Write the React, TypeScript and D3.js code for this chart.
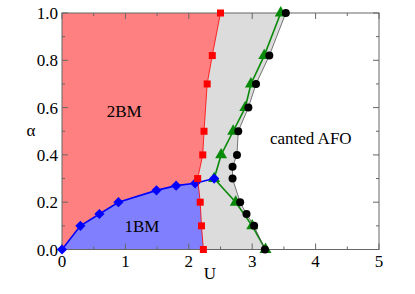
import React from 'react';
import * as d3 from 'd3';

// phase boundaries: [U, alpha]
const redBoundary: [number, number][] = [
  [2.5, 1.0], [2.37, 0.82], [2.29, 0.7], [2.24, 0.5], [2.22, 0.4],
  [2.14, 0.3], [2.18, 0.2], [2.2, 0.1], [2.23, 0.0],
];
const blueBoundary: [number, number][] = [
  [0, 0], [0.29, 0.1], [0.59, 0.15], [0.89, 0.2], [1.49, 0.25],
  [1.8, 0.27], [2.1, 0.28], [2.4, 0.3],
];
const greenBoundary: [number, number][] = [
  [3.45, 1.0], [3.19, 0.82], [2.98, 0.7], [2.89, 0.6], [2.7, 0.5],
  [2.51, 0.4], [2.4, 0.3], [2.74, 0.2], [3.0, 0.1], [3.21, 0.0],
];
const blackBoundary: [number, number][] = [
  [3.53, 1.0], [3.27, 0.82], [3.06, 0.7], [2.94, 0.6], [2.78, 0.5],
  [2.76, 0.4], [2.69, 0.35], [2.69, 0.3], [2.81, 0.2], [2.91, 0.15],
  [3.03, 0.1], [3.2, 0.0],
];
const xTicks = [0, 1, 2, 3, 4, 5];
const yTicks = [0, 0.2, 0.4, 0.6, 0.8, 1.0];
const phaseLabels = [
  { text: '2BM', u: 0.98, a: 0.56, anchor: 'middle' },
  { text: '1BM', u: 1.26, a: 0.075, anchor: 'middle' },
  { text: 'canted AFO', u: 3.28, a: 0.445, anchor: 'start' },
];

const W = 415;
const H = 294;
const margin = { left: 62, right: 36, top: 13, bottom: 44.5 };
const FONT = "'Liberation Serif', 'Times New Roman', serif";

export default function App() {
  const x = d3.scaleLinear().domain([0, 5]).range([margin.left, W - margin.right]);
  const y = d3.scaleLinear().domain([0, 1]).range([H - margin.bottom, margin.top]);
  const line = d3.line<[number, number]>().x(d => x(d[0])).y(d => y(d[1]));

  // red region: everything left of red boundary
  const redPoly: [number, number][] = [[0, 0], [0, 1], ...redBoundary];
  // blue region: below blue line up to red boundary
  const bluePoly: [number, number][] = [
    ...blueBoundary.filter(d => d[0] <= 2.1),
    [2.15, 0.285],
    ...redBoundary.filter(d => d[1] < 0.28),
  ];
  // grey region: between red boundary and black circles
  const greyPoly: [number, number][] = [...redBoundary, ...[...blackBoundary].reverse()];

  const minorX = d3.range(0, 5.01, 0.5);
  const minorY = d3.range(0, 1.001, 0.1);
  const x0 = x(0), x1 = x(5), y0 = y(0), y1 = y(1);
  const axisColor = '#666';

  const diamond = d3.symbol(d3.symbolSquare, 52)();
  const triangle = d3.symbol(d3.symbolTriangle, 62)();

  return (
    <svg width={W} height={H} style={{ position: 'absolute', left: 0, top: 0, background: '#fff' }}>
      <path d={line(greyPoly)! + 'Z'} fill="#dcdcdc" />
      <path d={line(redPoly)! + 'Z'} fill="#ff8080" />
      <path d={line(bluePoly)! + 'Z'} fill="#8080ff" />

      {/* frame and ticks */}
      <rect x={x0} y={y1} width={x1 - x0} height={y0 - y1} fill="none" stroke={axisColor} strokeWidth={1} />
      {minorX.map((t, i) => {
        const len = Number.isInteger(t) ? 6 : 3;
        return (
          <g key={'xt' + i} stroke={axisColor} strokeWidth={1}>
            <line x1={x(t)} x2={x(t)} y1={y0} y2={y0 - len} />
            <line x1={x(t)} x2={x(t)} y1={y1} y2={y1 + len} />
          </g>
        );
      })}
      {minorY.map((t, i) => {
        const len = i % 2 === 0 ? 6 : 3;
        return (
          <g key={'yt' + i} stroke={axisColor} strokeWidth={1}>
            <line x1={x0} x2={x0 + len} y1={y(t)} y2={y(t)} />
            <line x1={x1} x2={x1 - len} y1={y(t)} y2={y(t)} />
          </g>
        );
      })}
      {xTicks.map(t => (
        <text key={'xl' + t} x={x(t)} y={y0 + 17} textAnchor="middle" fontFamily={FONT} fontSize={17}>{t}</text>
      ))}
      {yTicks.map(t => (
        <text key={'yl' + t} x={x0 - 4} y={y(t) + 6} textAnchor="end" fontFamily={FONT} fontSize={17}>{t.toFixed(1)}</text>
      ))}
      <text x={210} y={279} textAnchor="middle" fontFamily={FONT} fontSize={17}>U</text>
      <text x={31} y={136} textAnchor="middle" fontFamily={FONT} fontSize={17}>α</text>

      {phaseLabels.map(l => (
        <text key={l.text} x={x(l.u)} y={y(l.a)} textAnchor={l.anchor} fontFamily={FONT} fontSize={17}>{l.text}</text>
      ))}

      {/* green boundary */}
      <path d={line(greenBoundary)!} fill="none" stroke="#0a8a0a" strokeWidth={1.6} />
      {greenBoundary.map((d, i) => (
        <path key={'g' + i} d={triangle!} transform={`translate(${x(d[0])},${y(d[1])})`} fill="#0a8a0a" />
      ))}

      {/* black boundary */}
      <path d={line(blackBoundary)!} fill="none" stroke="#555" strokeWidth={0.8} />
      {blackBoundary.map((d, i) => (
        <circle key={'k' + i} cx={x(d[0])} cy={y(d[1])} r={4} fill="#000" />
      ))}

      {/* blue boundary */}
      <path d={line(blueBoundary)!} fill="none" stroke="#0000ff" strokeWidth={1.6} />
      {blueBoundary.map((d, i) => (
        <path key={'b' + i} d={diamond!} transform={`translate(${x(d[0])},${y(d[1])}) rotate(45)`} fill="#0000ff" />
      ))}

      {/* red boundary */}
      <path d={line(redBoundary)!} fill="none" stroke="#ff0000" strokeWidth={0.8} />
      {redBoundary.map((d, i) => (
        <rect key={'r' + i} x={x(d[0]) - 3.5} y={y(d[1]) - 3.5} width={7} height={7} fill="#ff0000" />
      ))}
    </svg>
  );
}
